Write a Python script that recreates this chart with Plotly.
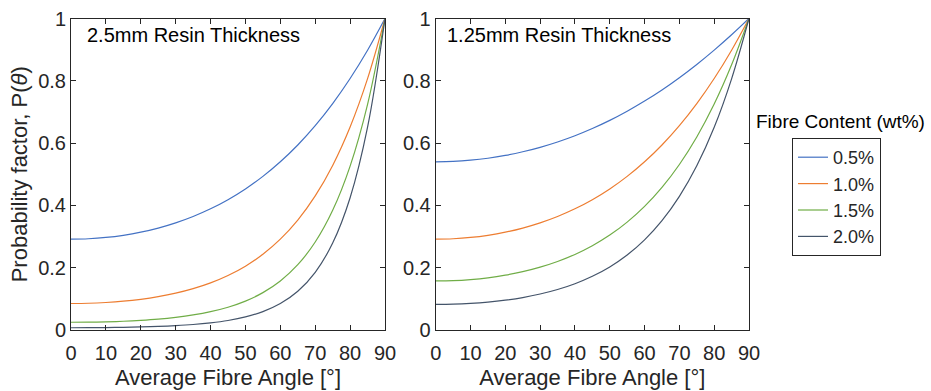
import plotly.graph_objects as go

angles = [0, 5, 10, 15, 20, 25, 30, 35, 40, 45, 50, 55, 60, 65, 70, 75, 80, 85, 90]

series_names = ["0.5%", "1.0%", "1.5%", "2.0%"]
colors = ["#4472C4", "#ED7D31", "#70AD47", "#44546A"]

# 2.5 mm resin thickness
left_05 = [0.2916, 0.2930, 0.2971, 0.3040, 0.3140, 0.3273, 0.3440, 0.3644, 0.3890, 0.4183,
           0.4528, 0.4932, 0.5400, 0.5940, 0.6561, 0.7269, 0.8073, 0.8982, 1.0]
left_10 = [0.0850, 0.0858, 0.0883, 0.0924, 0.0986, 0.1071, 0.1183, 0.1328, 0.1513, 0.1750,
           0.2050, 0.2432, 0.2916, 0.3528, 0.4305, 0.5284, 0.6517, 0.8068, 1.0]
left_15 = [0.0248, 0.0252, 0.0262, 0.0281, 0.0310, 0.0350, 0.0407, 0.0484, 0.0589, 0.0732,
           0.0928, 0.1200, 0.1575, 0.2096, 0.2824, 0.3842, 0.5262, 0.7245, 1.0]
left_20 = [0.00723, 0.00736, 0.00780, 0.00854, 0.00972, 0.01147, 0.0140, 0.0176, 0.0229, 0.0306,
           0.0420, 0.0591, 0.0850, 0.1245, 0.1853, 0.2792, 0.4247, 0.6509, 1.0]

# 1.25 mm resin thickness
right_05 = [0.5400, 0.5413, 0.5451, 0.5514, 0.5604, 0.5721, 0.5865, 0.6036, 0.6237, 0.6468,
            0.6729, 0.7023, 0.7349, 0.7707, 0.8100, 0.8526, 0.8985, 0.9477, 1.0]
right_10 = [0.2916, 0.2930, 0.2971, 0.3040, 0.3140, 0.3273, 0.3440, 0.3644, 0.3890, 0.4183,
            0.4528, 0.4932, 0.5400, 0.5940, 0.6561, 0.7269, 0.8073, 0.8982, 1.0]
right_15 = [0.1575, 0.1586, 0.1620, 0.1676, 0.1760, 0.1872, 0.2018, 0.2200, 0.2426, 0.2706,
            0.3047, 0.3464, 0.3968, 0.4578, 0.5314, 0.6198, 0.7254, 0.8512, 1.0]
right_20 = [0.0820, 0.0828, 0.0853, 0.0895, 0.0957, 0.1042, 0.1155, 0.1300, 0.1486, 0.1724,
            0.2025, 0.2408, 0.2894, 0.3510, 0.4290, 0.5272, 0.6508, 0.8064, 1.0]

x_ticks = [0, 10, 20, 30, 40, 50, 60, 70, 80, 90]
y_ticks = [0, 0.2, 0.4, 0.6, 0.8, 1]
y_ticklabels = ["0", "0.2", "0.4", "0.6", "0.8", "1"]

W, H = 931, 391
FONT = "Liberation Sans, Arial, sans-serif"
AX = "#262626"

fig = go.Figure()
left = [left_05, left_10, left_15, left_20]
right = [right_05, right_10, right_15, right_20]
for i, name in enumerate(series_names):
    fig.add_trace(go.Scatter(x=angles, y=left[i], mode="lines", name=name,
                             line=dict(color=colors[i], width=1.2, shape="spline"),
                             xaxis="x", yaxis="y", showlegend=True))
for i, name in enumerate(series_names):
    fig.add_trace(go.Scatter(x=angles, y=right[i], mode="lines", name=name,
                             line=dict(color=colors[i], width=1.2, shape="spline"),
                             xaxis="x2", yaxis="y2", showlegend=False))

def xa(domain, anchor):
    return dict(domain=domain, anchor=anchor, range=[0, 90], tickvals=x_ticks,
                ticks="inside", ticklen=5, tickcolor=AX, showline=True, linecolor=AX,
                linewidth=1, mirror="allticks", showgrid=False, zeroline=False,
                tickfont=dict(family=FONT, size=20, color=AX), ticklabelstandoff=5,
                title=dict(text="Average Fibre Angle [°]", font=dict(family=FONT, size=22, color=AX),
                           standoff=6),
                automargin=False)

def ya(domain, anchor, title):
    d = dict(domain=domain, anchor=anchor, range=[0, 1], tickvals=y_ticks, ticktext=y_ticklabels,
             ticks="inside", ticklen=5, tickcolor=AX, showline=True, linecolor=AX,
             linewidth=1, mirror="allticks", showgrid=False, zeroline=False,
             tickfont=dict(family=FONT, size=20, color=AX), automargin=False)
    if title:
        d["title"] = dict(text=title, font=dict(family=FONT, size=22, color=AX), standoff=4)
    return d

ydom = [1 - 330 / H, 1 - 18.5 / H]
fig.update_layout(
    width=W, height=H,
    margin=dict(l=0, r=0, t=0, b=0),
    paper_bgcolor="white", plot_bgcolor="white",
    xaxis=xa([71 / W, 385 / W], "y"),
    yaxis=ya(ydom, "x", "Probability factor, P(<i>θ</i>)"),
    xaxis2=xa([435.7 / W, 749 / W], "y2"),
    yaxis2=ya(ydom, "x2", None),
    legend=dict(x=792 / W, y=1 - 138 / H, xanchor="left", yanchor="top",
                bordercolor=AX, borderwidth=1, bgcolor="white",
                font=dict(family=FONT, size=18, color=AX), tracegroupgap=0,
                itemwidth=30),
    annotations=[
        dict(text="2.5mm Resin Thickness", x=85 / W, y=1 - 35 / H, xref="paper", yref="paper",
             xanchor="left", yanchor="middle", showarrow=False,
             font=dict(family=FONT, size=20, color="black")),
        dict(text="1.25mm Resin Thickness", x=445 / W, y=1 - 35 / H, xref="paper", yref="paper",
             xanchor="left", yanchor="middle", showarrow=False,
             font=dict(family=FONT, size=20, color="black")),
        dict(text="Fibre Content (wt%)", x=754 / W, y=1 - 121 / H, xref="paper", yref="paper",
             xanchor="left", yanchor="middle", showarrow=False,
             font=dict(family=FONT, size=19, color="black")),
    ],
)

fig.write_html("out.html")
